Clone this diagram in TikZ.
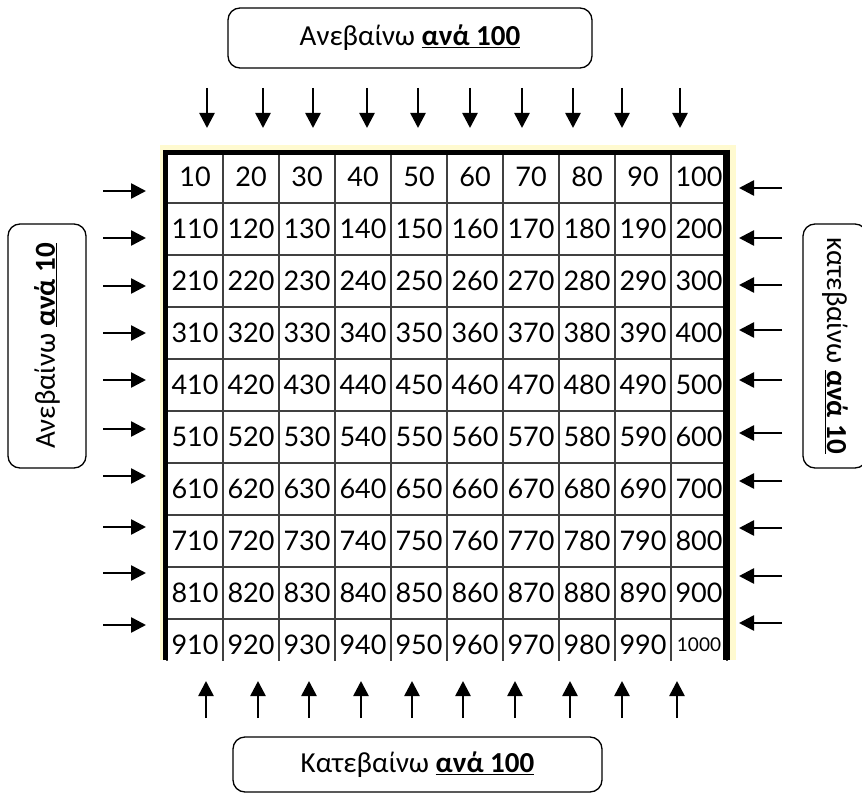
\documentclass[tikz,border=0pt]{standalone}
\usepackage{fontspec}
\setmainfont{Carlito}
\newfontfamily\gridfont{Lato}
\usetikzlibrary{arrows.meta,positioning,calc}
\definecolor{paleyellow}{HTML}{FFFAD0}
\tikzset{%
	labelbox/.style = {draw, line width=1.3pt, rounded corners=12pt, inner sep=0pt, font=\fontsize{29}{29}\selectfont},
	cell/.style     = {draw=black!75, line width=1.3pt, minimum width=56pt, minimum height=52pt, inner sep=0pt, text=black, font=\gridfont\fontsize{27}{27}\selectfont},
	arrow/.style    = {line width=2.6pt, -{Triangle[length=15pt,width=15pt]}},
}

\begin{document}
\begin{tikzpicture}[x=1pt,y=-1pt]
	\useasboundingbox (0,0) rectangle (862,794);
	\node [labelbox, minimum width=364pt, minimum height=60pt] (up) at (410,38) {Ανεβαίνω \underline{\textbf{ανά 100}}};
	\node [labelbox, minimum width=369pt, minimum height=55pt] (down) at (417.5,764.5) {Κατεβαίνω \underline{\textbf{ανά 100}}};
	\node [labelbox, rotate=90, minimum width=244pt, minimum height=78pt] (left) at (47,346) {Ανεβαίνω \underline{\textbf{ανά 10}}};
	\node [labelbox, rotate=-90, minimum width=244pt, minimum height=64pt] (right) at (835,346) {κατεβαίνω \underline{\textbf{ανά 10}}};
	
	% the table
	\fill [paleyellow] (160,145) rectangle (736,660);
	\begin{scope}
		\clip (165,150) rectangle (730,660);
		\fill [white] (165,150) rectangle (730,660);
		\foreach \r in {0,...,9}
		\foreach \c in {0,...,9} {
			\pgfmathtruncatemacro{\val}{100*\r+10*(\c+1)}
			\node [cell] (c\r-\c) at (195+56*\c,177+52*\r) {\ifnum\val<1000 \val\else{\fontsize{19}{19}\selectfont\val}\fi};
		}
	\end{scope}
	\draw [line width=5pt] (165.5,660) -- (165.5,152.5) -- (727,152.5);
	\draw [line width=7pt] (726.5,150) -- (726.5,660);
	
	% arrows
	\foreach \x [count=\i] in {207,263,313,367,418,470,522,573,622,680} {
		\coordinate (ta\i) at (\x,88);
		\coordinate (tb\i) at (\x,128);
		\draw [arrow] (ta\i) -- (tb\i);
	}
	\foreach \x [count=\i] in {206,258,309,361,412,463,515,570,622,677} {
		\coordinate (ba\i) at (\x,718);
		\coordinate (bb\i) at (\x,681);
		\draw [arrow] (ba\i) -- (bb\i);
	}
	\foreach \y [count=\i] in {191,238,286,333,380,429,476,527,573,625} {
		\coordinate (la\i) at (103,\y);
		\coordinate (lb\i) at (146,\y);
		\draw [arrow] (la\i) -- (lb\i);
	}
	\foreach \y [count=\i] in {188,238,285,330,380,433,481,528,576,623} {
		\coordinate (ra\i) at (782,\y);
		\coordinate (rb\i) at (739,\y);
		\draw [arrow] (ra\i) -- (rb\i);
	}
\end{tikzpicture}
\end{document}
